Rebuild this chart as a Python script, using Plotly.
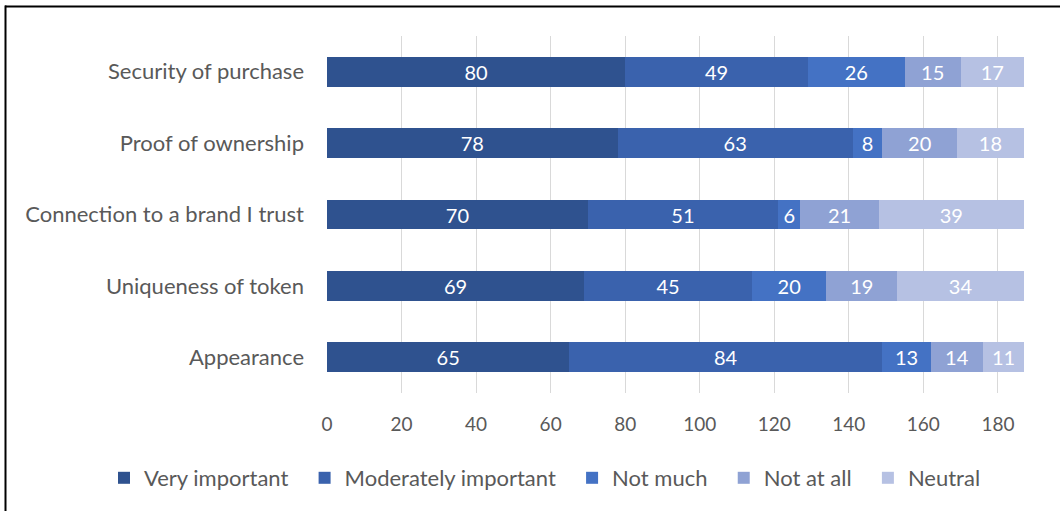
import plotly.graph_objects as go

categories = ["Security of purchase", "Proof of ownership", "Connection to a brand I trust",
              "Uniqueness of token", "Appearance"]
very_important = [80, 78, 70, 69, 65]
moderately_important = [49, 63, 51, 45, 84]
not_much = [26, 8, 6, 20, 13]
not_at_all = [15, 20, 21, 19, 14]
neutral = [17, 18, 39, 34, 11]
x_ticks = [0, 20, 40, 60, 80, 100, 120, 140, 160, 180]

series = [
    ("Very important", very_important, "#2F528F"),
    ("Moderately important", moderately_important, "#3A62AD"),
    ("Not much", not_much, "#4472C4"),
    ("Not at all", not_at_all, "#8FA2D4"),
    ("Neutral", neutral, "#B6C1E3"),
]

FONT = "Lato, Carlito, Calibri, sans-serif"
PAD = "\u00a0\u00a0"
fig = go.Figure()
for name, vals, col in series:
    fig.add_trace(go.Bar(
        y=categories, x=vals, name=name + PAD, orientation="h",
        marker=dict(color=col, line=dict(width=0)),
        text=[str(v) for v in vals], textposition="inside", insidetextanchor="middle",
        textangle=0,
        textfont=dict(color="white", size=20, family=FONT),
        constraintext="none",
    ))

W, H = 1060, 511
L, R, T, B = 327, 36, 36, 118
pw, ph = W - L - R, H - T - B

def px_x(p):
    return (p - L) / pw

def px_y(p):
    return (H - B - p) / ph

frame = dict(color="black", width=2)
fig.update_layout(
    barmode="stack", bargap=0.58,
    width=W, height=H,
    margin=dict(l=L, r=R, t=T, b=B, autoexpand=False),
    paper_bgcolor="white", plot_bgcolor="white",
    font=dict(family=FONT, size=22, color="#595959"),
    showlegend=True,
    legend=dict(orientation="h", x=px_x(104), xanchor="left",
                y=px_y(478), yanchor="middle",
                font=dict(size=22, color="#595959", family=FONT),
                traceorder="normal", itemwidth=30, tracegroupgap=0),
    xaxis=dict(range=[0, 187], tickvals=x_ticks, showgrid=True, gridcolor="#D9D9D9",
               gridwidth=1, zeroline=False, showline=False, ticks="",
               ticklabelstandoff=18, tickfont=dict(size=19, color="#595959")),
    yaxis=dict(categoryorder="array", categoryarray=categories[::-1], showgrid=False,
               zeroline=False, showline=False, ticks="", ticklabelstandoff=22,
               tickfont=dict(size=22, color="#595959")),
    shapes=[
        dict(type="line", xref="paper", yref="paper",
             x0=px_x(5), x1=px_x(1062), y0=px_y(6.5), y1=px_y(6.5), line=frame),
        dict(type="line", xref="paper", yref="paper",
             x0=px_x(5.5), x1=px_x(5.5), y0=px_y(5.5), y1=px_y(515), line=frame),
    ],
)

fig.write_html("out.html", post_script="document.body.style.margin='0';",
               config={"displayModeBar": False})
